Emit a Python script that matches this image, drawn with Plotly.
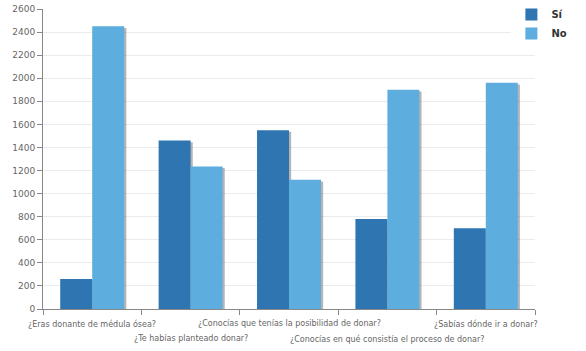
import plotly.graph_objects as go

categories = [
    "¿Eras donante de médula ósea?",
    "¿Te habías planteado donar?",
    "¿Conocías que tenías la posibilidad de donar?",
    "¿Conocías en qué consistía el proceso de donar?",
    "¿Sabías dónde ir a donar?",
]
si_values = [260, 1460, 1550, 780, 700]
no_values = [2450, 1235, 1120, 1900, 1960]
y_ticks = list(range(0, 2601, 200))

x_idx = list(range(len(categories)))
boundaries = [i - 0.5 for i in range(len(categories) + 1)]

BW = 0.325
SH_X = 0.022
SH_Y = 14

fig = go.Figure()
shadow = "rgba(90,90,90,0.45)"
fig.add_trace(go.Bar(x=x_idx, y=[v - SH_Y for v in si_values], offset=-BW + SH_X, width=BW,
                     marker=dict(color=shadow, line_width=0), showlegend=False, hoverinfo="skip"))
fig.add_trace(go.Bar(x=x_idx, y=si_values, offset=-BW, width=BW, name="<b>Sí</b>",
                     marker=dict(color="#2E75B2", line_width=0)))
fig.add_trace(go.Bar(x=x_idx, y=[v - SH_Y for v in no_values], offset=SH_X, width=BW,
                     marker=dict(color=shadow, line_width=0), showlegend=False, hoverinfo="skip"))
fig.add_trace(go.Bar(x=x_idx, y=no_values, offset=0, width=BW, name="<b>No</b>",
                     marker=dict(color="#5DADDE", line_width=0)))

for i, c in enumerate(categories):
    fig.add_annotation(x=i, y=0, xref="x", yref="y", text=c, showarrow=False,
                       yanchor="top", xanchor="center",
                       yshift=-8 if i % 2 == 0 else -23,
                       font=dict(size=8, color="#666666",
                                 family="DejaVu Sans, Verdana, sans-serif"))

fig.update_layout(
    width=586, height=351,
    margin=dict(l=43, r=51, t=9, b=42, autoexpand=False),
    paper_bgcolor="white", plot_bgcolor="white",
    barmode="overlay",
    font=dict(family="DejaVu Sans, Verdana, sans-serif", size=9, color="#666666"),
    showlegend=True,
    legend=dict(x=0.952, y=1.03, xanchor="left", yanchor="top",
                font=dict(size=10, color="#333333", family="DejaVu Sans, Verdana, sans-serif"),
                traceorder="normal", itemwidth=30, tracegroupgap=10),
    xaxis=dict(
        tickmode="array", tickvals=x_idx, showticklabels=False,
        range=[-0.5, 4.5], showline=True, linecolor="#888888", linewidth=1,
        ticks="", showgrid=False,
        minor=dict(tickmode="array", tickvals=boundaries, ticks="outside", ticklen=5,
                   tickcolor="#888888", showgrid=False),
    ),
    yaxis=dict(
        range=[0, 2600], tickmode="array", tickvals=y_ticks,
        showline=True, linecolor="#888888", linewidth=1,
        ticks="outside", ticklen=5, tickcolor="#888888",
        showgrid=True, gridcolor="#ebebeb", zeroline=False,
        tickfont=dict(size=9, color="#666666"),
    ),
)

fig.write_html("out.html")
